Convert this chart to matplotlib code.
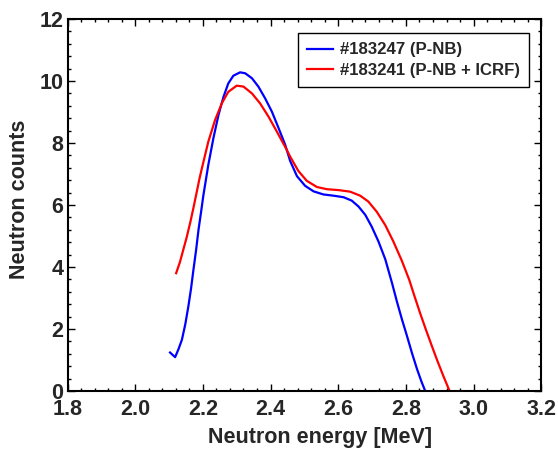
import matplotlib
matplotlib.use("Agg")
import matplotlib.pyplot as plt
from matplotlib.ticker import MultipleLocator

# neutron spectra
e_pnb = [2.103, 2.118, 2.128, 2.138, 2.148, 2.157, 2.165, 2.172, 2.180, 2.187,
         2.195, 2.2016, 2.216, 2.231, 2.246, 2.261, 2.275, 2.290, 2.310, 2.325,
         2.345, 2.364, 2.384, 2.404, 2.423, 2.443, 2.458, 2.478, 2.502, 2.527,
         2.556, 2.586, 2.616, 2.640, 2.660, 2.680, 2.699, 2.719, 2.739, 2.759,
         2.773, 2.788, 2.803, 2.818, 2.833, 2.846, 2.857]
n_pnb = [1.24, 1.09, 1.35, 1.65, 2.15, 2.72, 3.30, 3.90, 4.55, 5.19,
         5.80, 6.32, 7.29, 8.15, 8.90, 9.49, 9.92, 10.17, 10.28, 10.25,
         10.09, 9.82, 9.44, 9.01, 8.50, 7.95, 7.42, 6.93, 6.62, 6.44,
         6.34, 6.30, 6.25, 6.14, 5.95, 5.68, 5.30, 4.82, 4.25, 3.48,
         2.90, 2.32, 1.78, 1.22, 0.70, 0.30, 0.0]

e_icrf = [2.121, 2.132, 2.142, 2.152, 2.163, 2.172, 2.180, 2.190, 2.197, 2.216,
          2.236, 2.256, 2.275, 2.300, 2.320, 2.345, 2.369, 2.394, 2.419, 2.443,
          2.458, 2.482, 2.507, 2.537, 2.566, 2.601, 2.635, 2.665, 2.689, 2.714,
          2.739, 2.763, 2.788, 2.810, 2.825, 2.842, 2.860, 2.875, 2.892, 2.910,
          2.929]
n_icrf = [3.80, 4.15, 4.55, 4.95, 5.45, 5.90, 6.32, 6.85, 7.18, 8.04,
          8.74, 9.28, 9.65, 9.85, 9.82, 9.60, 9.28, 8.85, 8.36, 7.88,
          7.56, 7.10, 6.78, 6.58, 6.51, 6.48, 6.43, 6.30, 6.11, 5.78,
          5.35, 4.82, 4.20, 3.58, 3.07, 2.51, 1.95, 1.50, 1.00, 0.50,
          0.0]

labels = ["#183247 (P-NB)", "#183241 (P-NB + ICRF)"]

txt = "#262626"
plt.rcParams["font.family"] = ["Liberation Sans", "DejaVu Sans"]
plt.rcParams["font.weight"] = "bold"

fig = plt.figure(figsize=(5.58, 4.53), dpi=100)
ax = fig.add_axes([0.121, 0.137, 0.849, 0.821])

ax.plot(e_pnb, n_pnb, color="#0000ff", lw=1.6, label=labels[0])
ax.plot(e_icrf, n_icrf, color="#ff0000", lw=1.6, label=labels[1])

ax.set_xlim(1.8, 3.2)
ax.set_ylim(0, 12)
ax.xaxis.set_major_locator(MultipleLocator(0.2))
ax.xaxis.set_minor_locator(MultipleLocator(0.04))
ax.yaxis.set_major_locator(MultipleLocator(2))
ax.yaxis.set_minor_locator(MultipleLocator(0.4))
ax.xaxis.set_major_formatter(lambda v, pos: f"{v:.1f}")

ax.tick_params(which="both", direction="in", top=True, right=True, colors="black",
               labelcolor=txt, labelsize=15.5, width=1)
ax.tick_params(which="major", length=5, pad=3)
ax.tick_params(axis="x", which="major", pad=6)
ax.tick_params(which="minor", length=2.5)
for s in ax.spines.values():
    s.set_linewidth(1.5)

ax.set_xlabel("Neutron energy [MeV]", fontsize=15.5, fontweight="bold", color=txt)
ax.set_ylabel("Neutron counts", fontsize=15.5, fontweight="bold", color=txt)
ax.xaxis.set_label_coords(0.533, -0.124)
ax.xaxis.label.set_verticalalignment("center")
ax.yaxis.set_label_coords(-0.102, 0.516)
ax.yaxis.label.set_verticalalignment("center")

leg = ax.legend(loc="upper right", bbox_to_anchor=(0.975, 0.962), fancybox=False,
                edgecolor="black", framealpha=1, handlelength=1.55, handletextpad=0.4,
                borderpad=0.55, labelspacing=0.32, borderaxespad=0,
                prop={"weight": "bold", "size": 12.1})
leg.get_frame().set_linewidth(1.0)
for t in leg.get_texts():
    t.set_color(txt)

fig.savefig("out.png", dpi=100)
